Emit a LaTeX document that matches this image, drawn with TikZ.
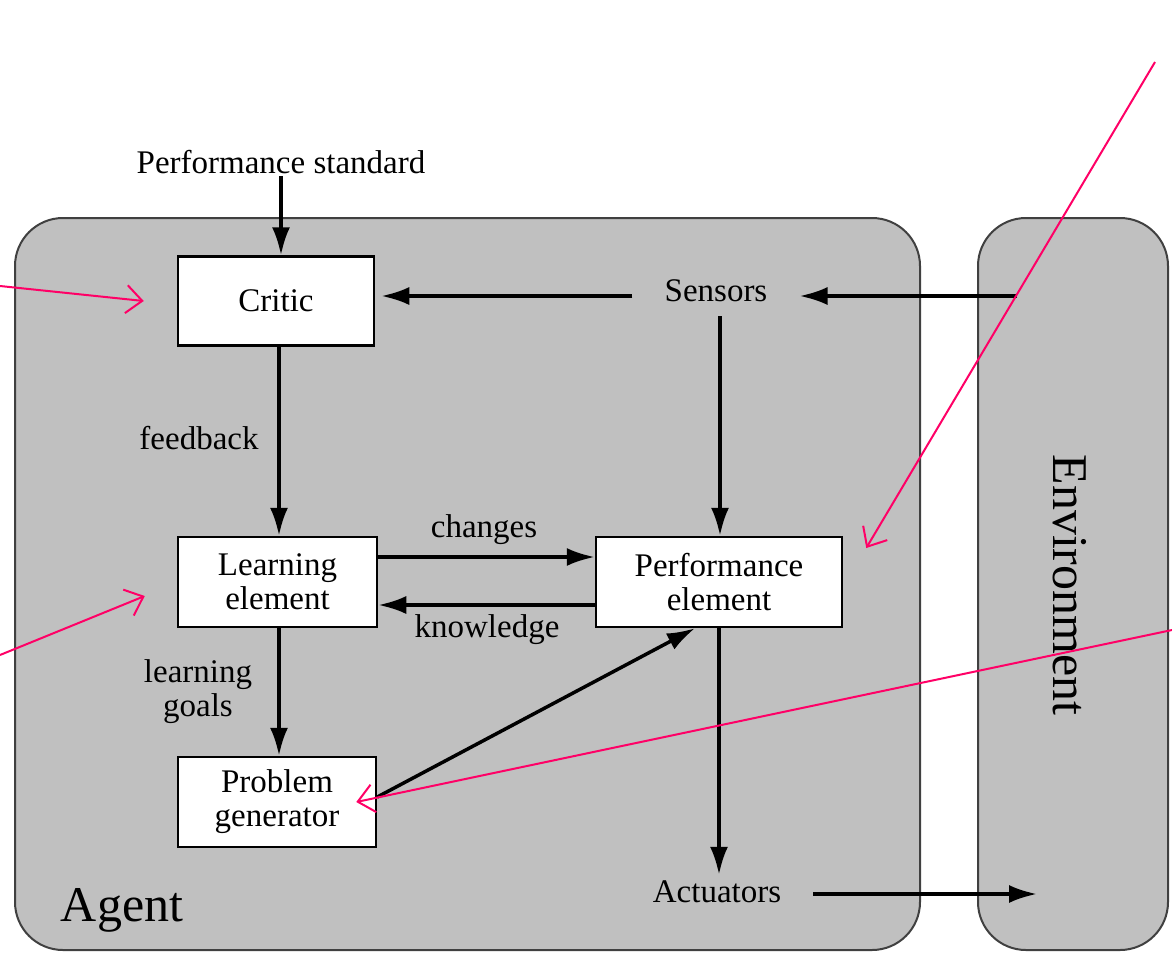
\documentclass[tikz,border=0pt]{standalone}
\usepackage{fontspec}
\setmainfont{Liberation Serif}
\usetikzlibrary{arrows.meta}
\definecolor{agentgray}{HTML}{C0C0C0}
\definecolor{annot}{HTML}{FF0066}
\begin{document}
\begin{tikzpicture}[x=1pt,y=-1pt,
  every node/.style={font=\fontsize{33}{34}\selectfont, align=center},
  region/.style={draw=black!75, line width=2pt, fill=agentgray, rounded corners=48pt},
  box/.style={draw, fill=white, line width=2.5pt, inner sep=0pt},
  lbl/.style={inner sep=2pt},
  arr/.style={line width=3.5pt, -{Latex[length=28pt,width=18pt]}},
  pink/.style={draw=annot, line width=2pt, -{Straight Barb[length=16pt,width=28pt,line width=2pt]}}
]
\useasboundingbox (0,0) rectangle (1172,959);
% regions
\path[region] (15,218) rectangle (920,950);
\path[region] (978,218) rectangle (1168,950);
\node[font=\fontsize{50}{52}\selectfont] (agent) at (122,910) {Agent};
\node[font=\fontsize{50}{52}\selectfont, rotate=-90] (env) at (1070,585) {Environment};
% boxes
\node[box, minimum width=196pt, minimum height=89pt] (cr) at (276,301) {Critic};
\node[box, minimum width=199pt, minimum height=90pt] (le) at (277.5,582) {Learning\\element};
\node[box, minimum width=246pt, minimum height=90pt] (pe) at (719,582) {Performance\\element};
\node[box, minimum width=198pt, minimum height=90pt] (pg) at (277,802) {Problem\\generator};
% plain texts
\node[lbl] (ps) at (281,162) {Performance standard};
\node[lbl, inner xsep=32pt, inner ysep=14pt] (sen) at (716,291) {Sensors};
\node[lbl, inner ysep=6pt] (act) at (717,892) {Actuators};
\coordinate (envin) at (1017,296);
\coordinate (actout) at (1037,894);
% edge labels
\node[lbl] (fb) at (199,438) {feedback};
\node[lbl] (ch) at (484,530) {changes};
\node[lbl] (kn) at (487,630) {knowledge};
\node[lbl] (lg) at (198,692) {learning\\goals};
% connectors
\draw[arr] (ps.south) -- (ps.south |- cr.north);
\draw[arr] (envin) -- (sen.east |- envin);
\draw[arr] ([yshift=-5pt]sen.west) -- ([yshift=-5pt,xshift=6pt]sen.west -| cr.east);
\draw[arr] ([xshift=4pt]sen.south) -- ([xshift=4pt]sen.south |- pe.north);
\draw[arr] ([xshift=3pt]cr.south) -- ([xshift=1.5pt]le.north);
\draw[arr] ([yshift=25pt]le.east) -- ([yshift=25pt]pe.west);
\draw[arr] ([yshift=-23pt]pe.west) -- ([yshift=-23pt]le.east);
\draw[arr] ([xshift=1.5pt]le.south) -- ([xshift=2pt]pg.north);
\draw[arr] ([yshift=5pt]pg.east) -- ([xshift=-24pt]pe.south);
\draw[arr] (pe.south) -- (pe.south |- act.north);
\draw[arr] ([xshift=30pt,yshift=-2pt]act.east) -- ([yshift=-2pt]actout |- act.east);
% annotations
\coordinate (a1) at (0,286);
\coordinate (a2) at (0,655);
\coordinate (a3) at (1155,62);
\coordinate (a4) at (1172,630);
\draw[pink] (a1) -- ([xshift=-33pt]cr.west);
\draw[pink] (a2) -- ([xshift=-32pt,yshift=-14pt]le.west);
\draw[pink] (a3) -- ([xshift=23pt,yshift=34pt]pe.east);
\draw[pink] (a4) -- ([xshift=-21pt]pg.east);
\end{tikzpicture}
\end{document}
